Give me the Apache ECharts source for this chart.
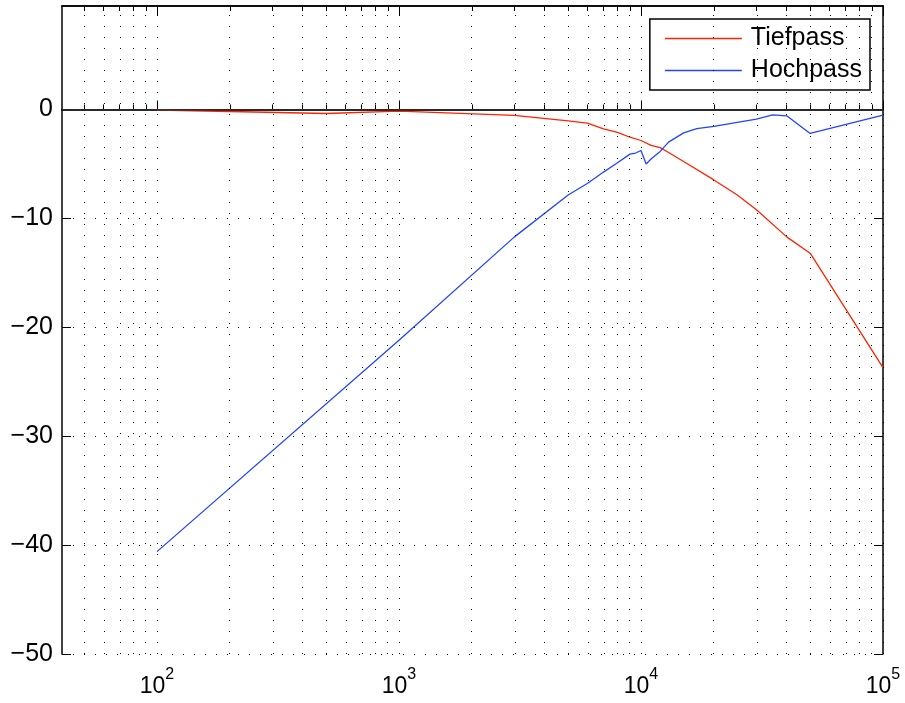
<!DOCTYPE html>
<html>
<head>
<meta charset="utf-8">
<script src="https://cdn.jsdelivr.net/npm/echarts@6/dist/echarts.min.js"></script>
<style>
html, body { margin: 0; padding: 0; background: #fff; }
#chart { width: 905px; height: 703px; }
</style>
</head>
<body>
<div id="chart"></div>
<script>
// Frequenzgang Tiefpass / Hochpass (dB über Hz, log x)
const lowFreq = [100, 500, 1000, 3000, 5000, 6000, 7000, 8000, 9000, 10000, 11000, 12000, 13000, 15000, 20000, 25000, 30000, 40000, 50000, 100000];
const lowGain = [-0.05, -0.37, -0.15, -0.55, -1.05, -1.25, -1.78, -2.1, -2.55, -2.85, -3.3, -3.5, -3.95, -4.78, -6.47, -7.85, -9.2, -11.7, -13.2, -23.7];

const highFreq = [100, 1000, 3000, 5000, 6000, 7000, 8000, 9000, 9500, 10000, 10500, 11000, 12000, 13000, 15000, 17000, 20000, 30000, 35000, 40000, 50000, 100000];
const highGain = [-40.6, -21.2, -11.7, -7.85, -6.8, -5.75, -4.9, -4.1, -4.0, -3.77, -5.0, -4.55, -3.85, -3.0, -2.15, -1.75, -1.55, -0.88, -0.5, -0.58, -2.2, -0.52];

const seriesNames = ['Tiefpass', 'Hochpass'];
const xMinHz = 40.5;
const xMaxHz = 100000;
const decades = [100, 1000, 10000, 100000];
const minorFreq = [50, 60, 70, 80, 90,
  200, 300, 400, 500, 600, 700, 800, 900,
  2000, 3000, 4000, 5000, 6000, 7000, 8000, 9000,
  20000, 30000, 40000, 50000, 60000, 70000, 80000, 90000];
const yTicks = [-50, -40, -30, -20, -10, 0];

const lg = v => Math.log10(v);
const pairs = (fs, gs) => fs.map((f, i) => [lg(f), gs[i]]);

const xMin = lg(xMinHz), xMax = lg(xMaxHz);
const axisCol = '#000';
const dotted = { color: '#000', width: 1, type: [1, 10] };

function xAxisDef(pos, values, len, withLabel) {
  return {
    type: 'value', position: pos, min: xMin, max: xMax,
    axisLine: { show: true, lineStyle: { color: axisCol, width: 1.5 } },
    axisTick: { show: true, inside: true, length: len, customValues: values, lineStyle: { color: axisCol, width: 1 } },
    axisLabel: withLabel ? {
      show: true, customValues: values, margin: 13,
      formatter: v => '{b|10}{s|' + Math.round(v) + '}',
      rich: {
        b: { fontFamily: 'Liberation Sans', fontSize: 23, color: '#000', lineHeight: 31, verticalAlign: 'bottom' },
        s: { fontFamily: 'Liberation Sans', fontSize: 16, color: '#000', lineHeight: 16, verticalAlign: 'top' }
      }
    } : { show: false },
    splitLine: { show: false }
  };
}

const chart = echarts.init(document.getElementById('chart'));
chart.setOption({
  animation: false,
  backgroundColor: '#fff',
  grid: { left: 62, right: 22, top: 6, bottom: 49, containLabel: false, outerBoundsMode: 'none' },
  legend: {
    data: seriesNames,
    orient: 'vertical',
    right: 35, top: 19,
    padding: [7, 8, 7, 15],
    itemGap: 7,
    icon: 'rect',
    itemWidth: 77,
    itemHeight: 1.5,
    borderColor: '#000', borderWidth: 1.5, borderRadius: 0,
    backgroundColor: '#fff',
    textStyle: { fontFamily: 'Liberation Sans', fontSize: 25, color: '#000', padding: [0, 0, 0, 4] }
  },
  xAxis: [
    xAxisDef('bottom', decades.map(lg), 9, true),
    xAxisDef('bottom', minorFreq.map(lg), 5, false),
    xAxisDef('top', decades.map(lg), 9, false),
    xAxisDef('top', minorFreq.map(lg), 5, false)
  ],
  yAxis: [
    {
      type: 'value', position: 'left', min: -50, max: 9.5, interval: 10,
      axisLine: { show: true, lineStyle: { color: axisCol, width: 1.5 } },
      axisTick: { show: true, inside: true, length: 9, customValues: yTicks, lineStyle: { color: axisCol } },
      axisLabel: {
        customValues: yTicks, margin: 9, color: '#000', fontFamily: 'Liberation Sans', fontSize: 25,
        formatter: v => (v < 0 ? '\u2212' + Math.abs(v) : String(v))
      },
      splitLine: { show: true, lineStyle: dotted }
    },
    {
      type: 'value', position: 'right', min: -50, max: 9.5, interval: 10,
      axisLine: { show: true, lineStyle: { color: axisCol, width: 1.5 } },
      axisTick: { show: true, inside: true, length: 9, customValues: yTicks, lineStyle: { color: axisCol } },
      axisLabel: { show: false },
      splitLine: { show: false }
    }
  ],
  series: [
    {
      name: 'grid', type: 'line', data: [], z: 1, silent: true,
      markLine: {
        silent: true, symbol: ['none', 'none'], animation: false,
        label: { show: false },
        lineStyle: dotted,
        emphasis: { disabled: true },
        data: decades.concat(minorFreq).map(f => ({ xAxis: lg(f) }))
      }
    },
    {
      name: 'zero', type: 'line', data: [], z: 2, silent: true,
      markLine: {
        silent: true, symbol: ['none', 'none'], animation: false,
        label: { show: false },
        lineStyle: { color: '#333', width: 1.6, type: 'solid' },
        emphasis: { disabled: true },
        data: [{ yAxis: 0 }]
      }
    },
    {
      name: seriesNames[0], type: 'line', z: 3, symbol: 'none',
      data: pairs(lowFreq, lowGain),
      lineStyle: { color: '#ff2200', width: 1.3 },
      itemStyle: { color: '#ff2200' }
    },
    {
      name: seriesNames[1], type: 'line', z: 3, symbol: 'none',
      data: pairs(highFreq, highGain),
      lineStyle: { color: '#2244ff', width: 1.3 },
      itemStyle: { color: '#2244ff' }
    }
  ]
});
</script>
</body>
</html>
